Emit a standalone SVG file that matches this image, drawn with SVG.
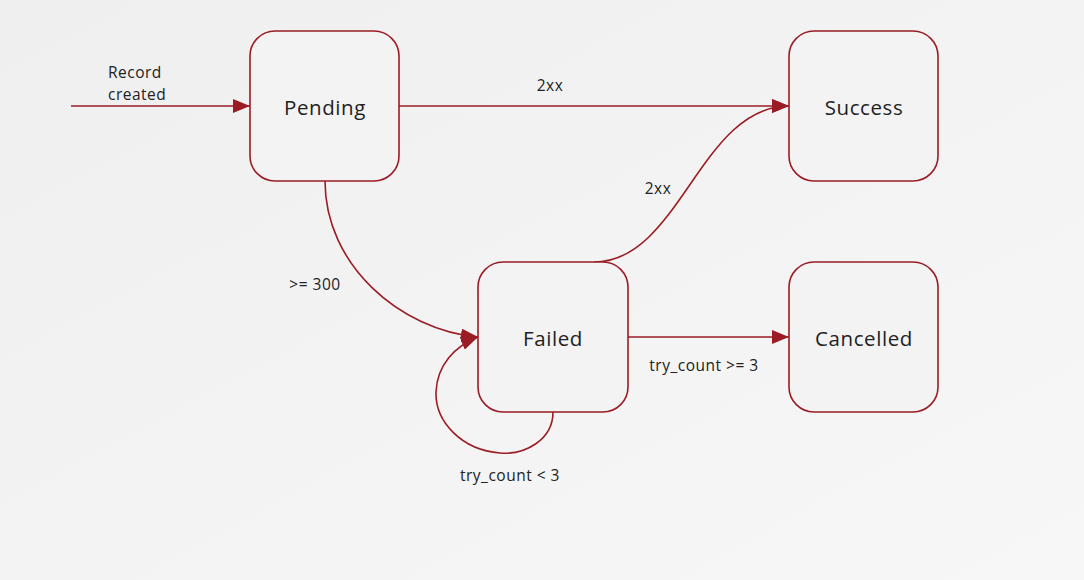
<svg xmlns="http://www.w3.org/2000/svg" width="1084" height="580" viewBox="0 0 1084 580">
<defs>
<linearGradient id="bg" x1="0" y1="0" x2="1" y2="1">
<stop offset="0" stop-color="#efefef"/>
<stop offset="1" stop-color="#f7f7f7"/>
</linearGradient>
<marker id="arr" markerUnits="userSpaceOnUse" markerWidth="18" markerHeight="14" refX="17" refY="7" orient="auto">
<path d="M0,0 L17,7 L0,14 Z" fill="#9b1c24"/>
</marker>
<style>
.node rect{fill:#f3f3f3;stroke:#9b1c24;stroke-width:1.6}
.node text{font-family:"Open Sans",Lato,sans-serif;font-size:20.5px;letter-spacing:0.6px;fill:#222;text-anchor:middle;dominant-baseline:central}
.edge{fill:none;stroke:#9b1c24;stroke-width:1.6;marker-end:url(#arr)}
.lbl{font-family:"Open Sans",Lato,sans-serif;font-size:15.5px;letter-spacing:0.5px;fill:#222}
</style>
</defs>
<rect width="1084" height="580" fill="url(#bg)"/>
<g id="connectors">
<path class="edge" d="M71,106 L250,106"/>
<path class="edge" d="M399,106 L789,106"/>
<path class="edge" d="M325,181 C325,265 400,330 478,337"/>
<path class="edge" d="M594,262 C680,262 700,106 789,106"/>
<path class="edge" d="M628,337 L789,337"/>
<path class="edge" d="M553,412 C553,440 525,455 500,453 C462,450 435,422 436,392 C437,365 455,346 478,337"/>
<text class="lbl" x="108" y="78">Record</text>
<text class="lbl" x="108" y="100">created</text>
<text class="lbl" x="550" y="91" text-anchor="middle">2xx</text>
<text class="lbl" x="658" y="194" text-anchor="middle">2xx</text>
<text class="lbl" x="315" y="290" text-anchor="middle">&gt;= 300</text>
<text class="lbl" x="704" y="371" text-anchor="middle">try_count &gt;= 3</text>
<text class="lbl" x="510" y="481" text-anchor="middle">try_count &lt; 3</text>
</g>
<g id="pending" class="node"><rect x="250" y="31" width="149" height="150" rx="25"/><text x="325" y="107">Pending</text></g>
<g id="success" class="node"><rect x="789" y="31" width="149" height="150" rx="25"/><text x="864" y="107">Success</text></g>
<g id="failed" class="node"><rect x="478" y="262" width="150" height="150" rx="25"/><text x="553" y="338">Failed</text></g>
<g id="cancelled" class="node"><rect x="789" y="262" width="149" height="150" rx="25"/><text x="864" y="338">Cancelled</text></g>
</svg>
